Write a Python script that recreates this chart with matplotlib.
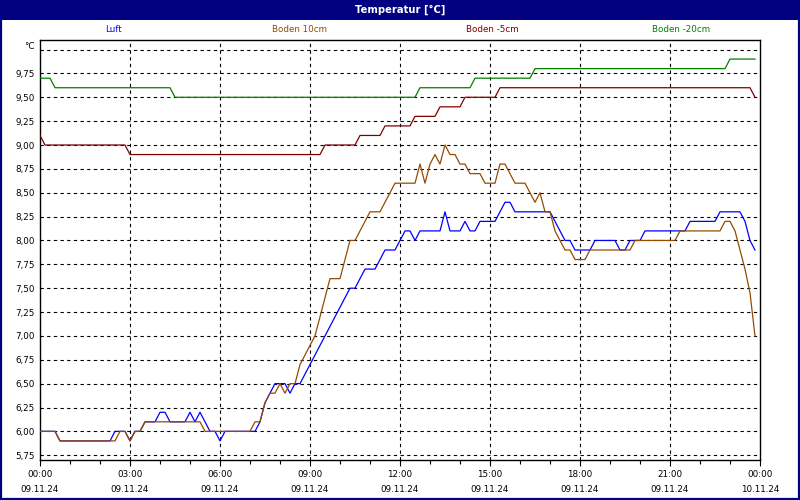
import pandas as pd
import matplotlib
matplotlib.use("Agg")
import matplotlib.pyplot as plt
from matplotlib.patches import Rectangle

# ---- data (10-min readings, only the change points) ----
luft_time = ["00:00", "00:30", "00:40", "02:20", "02:30", "02:50", "03:00", "03:10", "03:20", "03:30",
             "03:50", "04:00", "04:10", "04:20", "04:50", "05:00", "05:10", "05:20", "05:30", "05:40",
             "05:50", "06:00", "06:10", "07:10", "07:20", "07:30", "07:40", "07:50", "08:10", "08:20",
             "08:30", "08:40", "10:20", "10:30", "10:50", "11:10", "11:30", "11:50", "12:00", "12:10",
             "12:20", "12:30", "12:40", "13:20", "13:30", "13:40", "14:00", "14:10", "14:20", "14:30",
             "14:40", "15:10", "15:20", "15:30", "15:40", "15:50", "17:00", "17:10", "17:20", "17:30",
             "17:40", "17:50", "18:20", "18:30", "19:10", "19:20", "19:30", "19:40", "20:00", "20:10",
             "21:30", "21:40", "22:30", "22:40", "23:20", "23:30", "23:40", "23:50"]
luft_val = [6.0, 6.0, 5.9, 5.9, 6.0, 6.0, 5.9, 6.0, 6.0, 6.1,
            6.1, 6.2, 6.2, 6.1, 6.1, 6.2, 6.1, 6.2, 6.1, 6.0,
            6.0, 5.9, 6.0, 6.0, 6.1, 6.3, 6.4, 6.5, 6.5, 6.4,
            6.5, 6.5, 7.5, 7.5, 7.7, 7.7, 7.9, 7.9, 8.0, 8.1,
            8.1, 8.0, 8.1, 8.1, 8.3, 8.1, 8.1, 8.2, 8.1, 8.1,
            8.2, 8.2, 8.3, 8.4, 8.4, 8.3, 8.3, 8.2, 8.1, 8.0,
            8.0, 7.9, 7.9, 8.0, 8.0, 7.9, 7.9, 8.0, 8.0, 8.1,
            8.1, 8.2, 8.2, 8.3, 8.3, 8.2, 8.0, 7.9]

b10_time = ["00:00", "00:30", "00:40", "02:30", "02:40", "02:50", "03:00", "03:10", "03:20", "03:30",
            "05:20", "05:30", "07:00", "07:10", "07:20", "07:30", "07:40", "07:50", "08:00", "08:10",
            "08:20", "08:30", "08:40", "08:50", "09:00", "09:10", "09:20", "09:30", "09:40", "10:00",
            "10:10", "10:20", "10:30", "10:40", "10:50", "11:00", "11:20", "11:30", "11:40", "11:50",
            "12:30", "12:40", "12:50", "13:00", "13:10", "13:20", "13:30", "13:40", "13:50", "14:00",
            "14:10", "14:20", "14:40", "14:50", "15:10", "15:20", "15:30", "15:40", "15:50", "16:10",
            "16:20", "16:30", "16:40", "16:50", "17:00", "17:10", "17:20", "17:30", "17:40", "17:50",
            "18:10", "18:20", "19:40", "19:50", "21:10", "21:20", "22:40", "22:50", "23:00", "23:10",
            "23:20", "23:30", "23:40", "23:50"]
b10_val = [6.0, 6.0, 5.9, 5.9, 6.0, 6.0, 5.9, 6.0, 6.0, 6.1,
           6.1, 6.0, 6.0, 6.1, 6.1, 6.3, 6.4, 6.4, 6.5, 6.4,
           6.5, 6.5, 6.7, 6.8, 6.9, 7.0, 7.2, 7.4, 7.6, 7.6,
           7.8, 8.0, 8.0, 8.1, 8.2, 8.3, 8.3, 8.4, 8.5, 8.6,
           8.6, 8.8, 8.6, 8.8, 8.9, 8.8, 9.0, 8.9, 8.9, 8.8,
           8.8, 8.7, 8.7, 8.6, 8.6, 8.8, 8.8, 8.7, 8.6, 8.6,
           8.5, 8.4, 8.5, 8.3, 8.3, 8.1, 8.0, 7.9, 7.9, 7.8,
           7.8, 7.9, 7.9, 8.0, 8.0, 8.1, 8.1, 8.2, 8.2, 8.1,
           7.9, 7.7, 7.45, 7.0]

b5_time = ["00:00", "00:10", "02:50", "03:00", "09:20", "09:30", "10:30", "10:40", "11:20", "11:30",
           "12:20", "12:30", "13:10", "13:20", "14:00", "14:10", "15:10", "15:20", "23:40", "23:50"]
b5_val = [9.1, 9.0, 9.0, 8.9, 8.9, 9.0, 9.0, 9.1, 9.1, 9.2,
          9.2, 9.3, 9.3, 9.4, 9.4, 9.5, 9.5, 9.6, 9.6, 9.5]

b20_time = ["00:00", "00:20", "00:30", "04:20", "04:30", "12:30", "12:40", "14:20", "14:30",
            "16:20", "16:30", "22:50", "23:00", "23:50"]
b20_val = [9.7, 9.7, 9.6, 9.6, 9.5, 9.5, 9.6, 9.6, 9.7,
           9.7, 9.8, 9.8, 9.9, 9.9]

series_names = ["Luft", "Boden 10cm", "Boden -5cm", "Boden -20cm"]
series_colors = ["#0000FF", "#964B00", "#800000", "#008000"]

y_ticks = [5.75, 6.0, 6.25, 6.5, 6.75, 7.0, 7.25, 7.5, 7.75, 8.0, 8.25, 8.5, 8.75, 9.0, 9.25, 9.5, 9.75]
y_grid = y_ticks + [10.0]
x_tick_times = ["2024-11-09 00:00", "2024-11-09 03:00", "2024-11-09 06:00", "2024-11-09 09:00",
                "2024-11-09 12:00", "2024-11-09 15:00", "2024-11-09 18:00", "2024-11-09 21:00",
                "2024-11-10 00:00"]
x_tick_labels = ["00:00\n09.11.24", "03:00\n09.11.24", "06:00\n09.11.24", "09:00\n09.11.24",
                 "12:00\n09.11.24", "15:00\n09.11.24", "18:00\n09.11.24", "21:00\n09.11.24",
                 "00:00\n10.11.24"]

day = "2024-11-09 "
series = [(luft_time, luft_val), (b10_time, b10_val), (b5_time, b5_val), (b20_time, b20_val)]

navy = "#000080"
fs = 6.3

fig = plt.figure(figsize=(8, 5), dpi=100)
fig.patch.set_facecolor("white")
ax = fig.add_axes([40 / 800, 1 - 460 / 500, 720 / 800, 420 / 500])

# grid
dash = (0, (3, 3))
for v in y_grid:
    ax.axhline(v, color="black", lw=0.8, ls=dash, zorder=1)
xt = pd.to_datetime(x_tick_times)
for t in xt[1:-1]:
    ax.axvline(t, color="black", lw=0.8, ls=dash, zorder=1)

for (times, vals), name, col in zip(series, series_names, series_colors):
    tt = pd.to_datetime([day + s for s in times])
    ax.plot(tt, vals, color=col, lw=0.9, label=name, zorder=3)

ax.set_xlim(xt[0], xt[-1])
ax.set_ylim(5.70, 10.10)
ax.set_yticks(y_ticks)
ax.set_yticklabels([f"{v:.2f}".replace(".", ",") for v in y_ticks], fontsize=fs)
ax.tick_params(axis="y", length=0, pad=4)
ax.set_xticks(xt)
labels = ax.set_xticklabels(x_tick_labels, fontsize=fs)
for lab in labels:
    lab.set_linespacing(1.9)
ax.set_xticks(pd.date_range(xt[0], xt[-1], freq="1h"), minor=True)
ax.tick_params(axis="x", which="major", length=4, width=0.8, pad=3)
ax.tick_params(axis="x", which="minor", length=3, width=0.8)
for sp in ax.spines.values():
    sp.set_linewidth(1.0)
ax.text(-0.008, 0.985, "°C", transform=ax.transAxes, ha="right", va="center", fontsize=fs)

# legend labels above the plot
legend_x = [113, 300, 492, 681]
for name, col, px in zip(series_names, series_colors, legend_x):
    fig.text(px / 800, 1 - 30 / 500, name, color=col, ha="center", va="center", fontsize=fs)

# title bar and frame
fig.patches.append(Rectangle((0, 1 - 20 / 500), 1, 20 / 500, transform=fig.transFigure,
                             facecolor=navy, edgecolor="none", zorder=0))
fig.patches.append(Rectangle((0.001, 0.002), 0.998, 0.996, transform=fig.transFigure,
                             facecolor="none", edgecolor=navy, lw=1.6, zorder=5))
fig.text(0.5, 1 - 10 / 500, "Temperatur [°C]", color="white", ha="center", va="center",
         fontsize=7.2, fontweight="bold")

fig.savefig("out.png", dpi=100)
